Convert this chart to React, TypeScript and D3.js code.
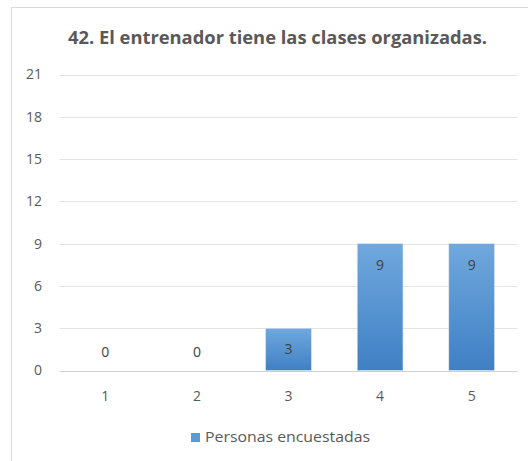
import React, { useEffect, useRef } from "react";
import * as d3 from "d3";

const categories = ["1", "2", "3", "4", "5"];
const values = [0, 0, 3, 9, 9];
const yTicks = [0, 3, 6, 9, 12, 15, 18, 21];
const title = "42. El entrenador tiene las clases organizadas.";
const seriesName = "Personas encuestadas";

const App = () => {
  const ref = useRef<SVGSVGElement>(null);

  useEffect(() => {
    const width = 528;
    const height = 461;
    const margin = { top: 74.5, right: 10.5, bottom: 90.5, left: 59.5 };
    const font = "'Open Sans', 'Noto Sans', sans-serif";

    const svg = d3.select(ref.current);
    svg.selectAll("*").remove();

    const defs = svg.append("defs");
    const grad = defs
      .append("linearGradient")
      .attr("id", "barGrad")
      .attr("x1", 0)
      .attr("y1", 0)
      .attr("x2", 0)
      .attr("y2", 1);
    grad.append("stop").attr("offset", "0%").attr("stop-color", "#70a8de");
    grad.append("stop").attr("offset", "100%").attr("stop-color", "#3f80c4");

    // chart frame
    svg
      .append("rect")
      .attr("x", 11.5)
      .attr("y", 7.5)
      .attr("width", 540)
      .attr("height", 470)
      .attr("fill", "#fff")
      .attr("stroke", "#d9d9d9");

    const x = d3
      .scaleBand()
      .domain(categories)
      .range([margin.left, width - margin.right])
      .paddingInner(0.5)
      .paddingOuter(0.25);

    const y = d3
      .scaleLinear()
      .domain([0, 21])
      .range([height - margin.bottom, margin.top]);

    // gridlines
    svg
      .append("g")
      .selectAll("line")
      .data(yTicks)
      .join("line")
      .attr("x1", margin.left)
      .attr("x2", width - margin.right)
      .attr("y1", (d) => Math.round(y(d)) + 0.5)
      .attr("y2", (d) => Math.round(y(d)) + 0.5)
      .attr("stroke", (d) => (d === 0 ? "#d0d0d0" : "#e3e3e3"))
      .attr("stroke-width", 1.2);

    // y labels
    svg
      .append("g")
      .selectAll("text")
      .data(yTicks)
      .join("text")
      .attr("x", 42)
      .attr("y", (d) => y(d))
      .attr("dy", "0.35em")
      .attr("text-anchor", "end")
      .attr("font-family", font)
      .attr("font-size", 14)
      .attr("fill", "#595959")
      .text((d) => d);

    // bars
    svg
      .append("g")
      .selectAll("rect")
      .data(values)
      .join("rect")
      .attr("x", (d, i) => x(categories[i])!)
      .attr("y", (d) => y(d))
      .attr("width", x.bandwidth())
      .attr("height", (d) => y(0) - y(d))
      .attr("fill", "url(#barGrad)")
      .attr("stroke", "#dfe8f2")
      .attr("stroke-width", 0.6);

    // data labels
    svg
      .append("g")
      .selectAll("text")
      .data(values)
      .join("text")
      .attr("x", (d, i) => x(categories[i])! + x.bandwidth() / 2)
      .attr("y", (d) => (d === 0 ? y(0) - 18 : y(d) + 21))
      .attr("dy", "0.35em")
      .attr("text-anchor", "middle")
      .attr("font-family", font)
      .attr("font-size", 14)
      .attr("fill", "#404040")
      .text((d) => d);

    // x labels
    svg
      .append("g")
      .selectAll("text")
      .data(categories)
      .join("text")
      .attr("x", (d) => x(d)! + x.bandwidth() / 2)
      .attr("y", 396)
      .attr("dy", "0.35em")
      .attr("text-anchor", "middle")
      .attr("font-family", font)
      .attr("font-size", 14)
      .attr("fill", "#595959")
      .text((d) => d);

    // title
    svg
      .append("text")
      .attr("x", 68)
      .attr("y", 44)
      .attr("textLength", 419)
      .attr("lengthAdjust", "spacingAndGlyphs")
      .attr("font-family", font)
      .attr("font-size", 18)
      .attr("font-weight", "bold")
      .attr("fill", "#595959")
      .text(title);

    // legend
    const legend = svg.append("g");
    legend
      .append("rect")
      .attr("x", 191)
      .attr("y", 433)
      .attr("width", 9)
      .attr("height", 9)
      .attr("fill", "#5b9bd5");
    legend
      .append("text")
      .attr("x", 205)
      .attr("y", 437.5)
      .attr("dy", "0.35em")
      .attr("textLength", 165)
      .attr("lengthAdjust", "spacingAndGlyphs")
      .attr("font-family", font)
      .attr("font-size", 14)
      .attr("fill", "#595959")
      .text(seriesName);
  }, []);

  return (
    <svg
      ref={ref}
      width={528}
      height={461}
      style={{ position: "absolute", left: 0, top: 0 }}
    />
  );
};

export default App;
